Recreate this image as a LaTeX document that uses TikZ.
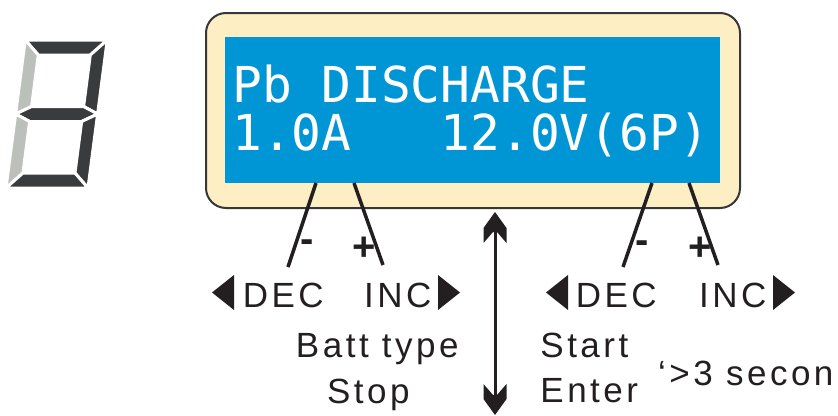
\documentclass[tikz,border=0pt]{standalone}
\usepackage{fontspec}
\setmainfont{Liberation Sans}
\newfontfamily\lcdfont{DejaVu Sans Mono}
\usetikzlibrary{arrows.meta}
\definecolor{lcdblue}{RGB}{0,150,214}
\definecolor{cream}{RGB}{253,238,196}
\definecolor{segdark}{RGB}{58,59,61}
\definecolor{seglight}{RGB}{188,192,187}
\definecolor{inkc}{RGB}{35,31,32}
\definecolor{boxline}{RGB}{55,55,55}
\begin{document}
\begin{tikzpicture}[x=1pt,y=-1pt,
  segd/.style={fill=segdark, draw=white, line width=3pt, line join=round},
  segl/.style={fill=seglight, draw=white, line width=3pt, line join=round},
  lcd/.style={font=\lcdfont\fontsize{49.5}{49.5}\selectfont, text=white, inner sep=0pt, anchor=base west},
  lbl/.style={font=\fontsize{35}{35}\selectfont\addfontfeature{LetterSpace=10}, text=inkc, inner sep=0pt},
  pm/.style={font=\fontsize{40}{40}\selectfont\bfseries, text=inkc, inner sep=0pt, anchor=base},
  conn/.style={draw=inkc, line width=3.5pt},
  tri/.style={fill=inkc},
  shaft/.style={draw=inkc, line width=3pt},
  head/.style={fill=inkc}
]
\useasboundingbox (0,0) rectangle (838,415);

% seven-segment digit
\begin{scope}[shift={(6,188)}, x=1pt, y=1pt, xslant=0.13]
  \path[segd] (0,148) -- (82,148) -- (67,133) -- (15,133) -- cycle;
  \path[segl] (0,148) -- (15,133) -- (15,81.5) -- (0,74) -- cycle;
  \path[segd] (82,148) -- (82,74) -- (67,81.5) -- (67,133) -- cycle;
  \path[segd] (0,74) -- (15,81.5) -- (67,81.5) -- (82,74) -- (67,66.5) -- (15,66.5) -- cycle;
  \path[segl] (0,74) -- (15,66.5) -- (15,15) -- (0,0) -- cycle;
  \path[segd] (82,74) -- (82,0) -- (67,15) -- (67,66.5) -- cycle;
  \path[segd] (0,0) -- (82,0) -- (67,15) -- (15,15) -- cycle;
\end{scope}

% panel and screen
\node[draw=boxline, line width=2pt, fill=cream, rounded corners=20pt,
      minimum width=534pt, minimum height=195pt, inner sep=0pt] (panel) at (473,110.5) {};
\node[fill=lcdblue, minimum width=495pt, minimum height=146pt, inner sep=0pt] (screen) at (472.5,110) {};

\node[lcd] (line1) at (232,102) {Pb DISCHARGE};
\node[lcd] (line2) at (232,150) {1.0A\ \ \ 12.0V(6P)};

% connectors
\coordinate (c1t) at (316,183); \coordinate (c1b) at (288,267);
\coordinate (c2t) at (354,183); \coordinate (c2b) at (383,265);
\coordinate (c3t) at (652,183); \coordinate (c3b) at (623,267);
\coordinate (c4t) at (689,183); \coordinate (c4b) at (718,265);
\draw[conn] (c1t) -- (c1b);
\draw[conn] (c2t) -- (c2b);
\draw[conn] (c3t) -- (c3b);
\draw[conn] (c4t) -- (c4b);

\node[pm] (m1) at (307,252) {-};
\node[pm] (p1) at (364,260) {+};
\node[pm] (m2) at (642,253) {-};
\node[pm] (p2) at (700,260) {+};

% triangles
\fill[tri] (212,292.5) -- (234,275) -- (234,310) -- cycle;
\fill[tri] (460,292.5) -- (438,275) -- (438,310) -- cycle;
\fill[tri] (546,292.5) -- (568,275) -- (568,310) -- cycle;
\fill[tri] (795,292.5) -- (773,275) -- (773,310) -- cycle;

% labels
\node[lbl, anchor=base] (decL) at (283.3,307) {DEC};
\node[lbl, anchor=base] (incL) at (397.8,307) {INC};
\node[lbl, anchor=base] (decR) at (616.3,307) {DEC};
\node[lbl, anchor=base] (incR) at (732.8,307) {INC};

\node[lbl, anchor=base] (batt) at (377.3,357) {Batt type};
\node[lbl, anchor=base] (stop) at (368.3,403) {Stop};
\node[lbl, anchor=base west] (start) at (540.2,357) {Start};
\node[lbl, anchor=base west] (enter) at (540.2,402) {Enter};
\node[lbl, anchor=base west] (secs) at (658,385) {‘>3 secon};

% vertical double arrow
\coordinate (at) at (495,212);
\coordinate (ab) at (495,415);
\draw[shaft] ([yshift=-14pt]at) -- ([yshift=14pt]ab);
\fill[head, shift={(at)}] (0,0) -- (11.5,16) -- (11.5,31) -- (2,20) -- (-2,20) -- (-11.5,31) -- (-11.5,16) -- cycle;
\fill[head, shift={(ab)}] (0,0) -- (11.5,-16) -- (11.5,-31) -- (2,-20) -- (-2,-20) -- (-11.5,-31) -- (-11.5,-16) -- cycle;
\end{tikzpicture}
\end{document}
